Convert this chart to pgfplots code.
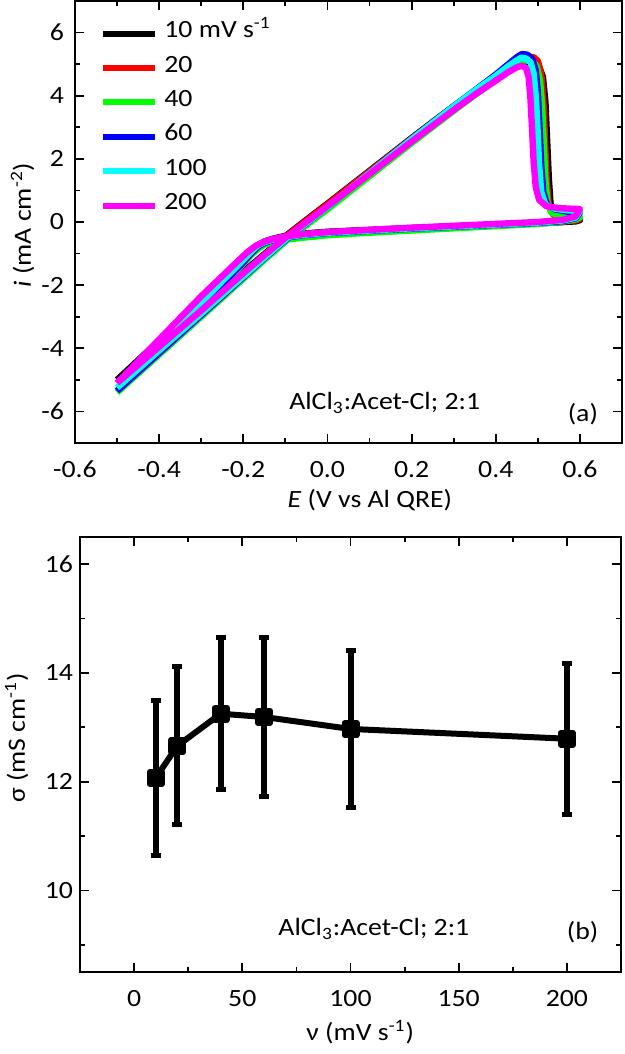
\documentclass[border=0pt]{standalone}
\usepackage{fontspec}
\setmainfont{Carlito}[FakeStretch=1.12]
\usepackage{pgfplots}
\pgfplotsset{compat=1.18}
\definecolor{cgreen}{RGB}{0,255,0}
\definecolor{ccyan}{RGB}{0,255,255}
\definecolor{cmag}{RGB}{255,0,255}
\definecolor{cred}{RGB}{255,0,0}
\definecolor{cblue}{RGB}{0,0,255}
\begin{document}
\begin{tikzpicture}[font=\fontsize{12.4}{14}\selectfont]
\pgfplotsset{
  myax/.style={
    scale only axis, anchor=south west,
    tick align=inside,
    major tick length=4.5pt, minor tick length=2.5pt,
    axis line style={line width=1pt},
    every tick/.style={black, line width=0.9pt},
    /pgf/number format/assume math mode=true,
    tick label style={font=\fontsize{12.4}{14}\selectfont},
    label style={font=\fontsize{12.4}{14}\selectfont},
    xticklabel style={yshift=-5.5pt},
    clip=false,
  }
}
% ---------------- top panel ----------------
\begin{axis}[myax,
  at={(37.5pt,305.5pt)}, width=273.5pt, height=221pt,
  xmin=-0.6, xmax=0.7, ymin=-7, ymax=7,
  xtick={-0.6,-0.4,-0.2,0,0.2,0.4,0.6},
  xticklabels={-0.6,-0.4,-0.2,0.0,0.2,0.4,0.6},
  minor xtick={-0.5,-0.3,-0.1,0.1,0.3,0.5},
  ytick={-6,-4,-2,0,2,4,6},
  minor ytick={-5,-3,-1,1,3,5},
  yticklabel style={xshift=-2pt},
  xlabel={\textit{E} (V vs Al QRE)},
  ylabel={\textit{i} (mA cm\textsuperscript{-2})},
  xlabel style={at={(axis description cs:0.539,0)}, anchor=center, yshift=-28.5pt},
  ylabel style={at={(axis description cs:-0.096,0.493)}, anchor=center, rotate=0},
  legend cell align=left,
  legend image code/.code={\draw[line width=3pt] (0pt,0pt) -- (26pt,0pt);},
  legend style={at={(rel axis cs:0,1)}, anchor=north west, xshift=12.5pt, yshift=-7.5pt,
    draw=none, fill=none, inner sep=0pt, row sep=0pt, column sep=3pt,
    nodes={inner sep=0pt, text height=10.6pt, text depth=6.6pt}},
  every axis plot/.append style={line width=3.2pt, line join=round, no markers},
]
\addplot[black] coordinates {
(-0.5,-5.0) (-0.45,-4.43) (-0.4,-3.86) (-0.35,-3.29) (-0.3,-2.72) (-0.25,-2.15) (-0.2,-1.58) (-0.15,-1.02) (-0.1,-0.45) (-0.05,0.07) (0,0.58) (0.05,1.1) (0.1,1.62) (0.15,2.14) (0.2,2.66) (0.25,3.17) (0.3,3.67) (0.35,4.15) (0.4,4.6) (0.43,4.86) (0.455,5.02) (0.475,5.08) (0.49,5.06) (0.502,4.95) (0.512,4.6) (0.518,3.8) (0.522,2.6) (0.526,1.4) (0.53,0.6) (0.537,0.25) (0.55,0.13) (0.575,0.08) (0.6,0.06)
(0.59,0.02) (0.55,-0.01) (0.5,-0.04) (0.4,-0.09) (0.3,-0.14) (0.2,-0.19) (0.1,-0.25) (0.0,-0.31) (-0.06,-0.37) (-0.1,-0.44) (-0.13,-0.53) (-0.15,-0.62) (-0.165,-0.75) (-0.18,-0.93) (-0.2,-1.2) (-0.25,-1.85) (-0.3,-2.5) (-0.35,-3.12) (-0.4,-3.75) (-0.45,-4.38) (-0.5,-5.0)
};
\addlegendentry{10 mV s\textsuperscript{-1}}
\addplot[cred] coordinates {
(-0.5,-5.1) (-0.4,-3.95) (-0.3,-2.8) (-0.2,-1.63) (-0.15,-1.05) (-0.1,-0.47) (-0.05,0.05) (0,0.56) (0.1,1.6) (0.2,2.64) (0.3,3.66) (0.35,4.15) (0.4,4.62) (0.43,4.92) (0.455,5.15) (0.475,5.24) (0.49,5.22) (0.5,5.1) (0.508,4.7) (0.513,3.9) (0.517,2.6) (0.521,1.3) (0.526,0.55) (0.535,0.25) (0.55,0.16) (0.575,0.12) (0.6,0.1)
(0.59,0.05) (0.55,0.0) (0.5,-0.04) (0.4,-0.09) (0.3,-0.14) (0.2,-0.2) (0.1,-0.26) (0,-0.32) (-0.06,-0.38) (-0.1,-0.45) (-0.13,-0.55) (-0.15,-0.66) (-0.165,-0.8) (-0.18,-0.98) (-0.2,-1.25) (-0.3,-2.55) (-0.4,-3.83) (-0.5,-5.1)
};
\addlegendentry{20}
\addplot[cgreen] coordinates {
(-0.5,-5.4) (-0.4,-4.2) (-0.3,-3.0) (-0.2,-1.8) (-0.15,-1.2) (-0.1,-0.62) (-0.05,-0.1) (0,0.4) (0.1,1.45) (0.2,2.5) (0.3,3.52) (0.35,4.02) (0.4,4.5) (0.43,4.82) (0.455,5.05) (0.47,5.12) (0.485,5.1) (0.497,4.95) (0.505,4.5) (0.51,3.7) (0.514,2.5) (0.518,1.3) (0.523,0.6) (0.532,0.3) (0.55,0.2) (0.575,0.17) (0.6,0.15)
(0.59,0.08) (0.55,0.0) (0.5,-0.06) (0.4,-0.13) (0.3,-0.2) (0.2,-0.27) (0.1,-0.34) (0,-0.42) (-0.06,-0.5) (-0.1,-0.56) (-0.13,-0.63) (-0.15,-0.72) (-0.165,-0.85) (-0.18,-1.03) (-0.2,-1.32) (-0.3,-2.68) (-0.4,-4.04) (-0.5,-5.4)
};
\addlegendentry{40}
\addplot[cblue] coordinates {
(-0.5,-5.35) (-0.4,-4.15) (-0.3,-2.95) (-0.2,-1.75) (-0.15,-1.15) (-0.1,-0.57) (-0.05,-0.04) (0,0.48) (0.1,1.55) (0.2,2.62) (0.3,3.66) (0.35,4.17) (0.4,4.67) (0.43,5.0) (0.45,5.22) (0.462,5.32) (0.475,5.3) (0.487,5.15) (0.495,4.8) (0.5,4.1) (0.504,3.0) (0.508,1.8) (0.513,0.95) (0.522,0.55) (0.54,0.4) (0.57,0.33) (0.6,0.3)
(0.59,0.12) (0.56,0.03) (0.5,-0.03) (0.4,-0.09) (0.3,-0.15) (0.2,-0.21) (0.1,-0.28) (0,-0.35) (-0.06,-0.42) (-0.1,-0.5) (-0.13,-0.58) (-0.15,-0.66) (-0.165,-0.78) (-0.18,-0.98) (-0.2,-1.28) (-0.3,-2.65) (-0.4,-4.0) (-0.5,-5.35)
};
\addlegendentry{60}
\addplot[ccyan] coordinates {
(-0.5,-5.25) (-0.4,-4.07) (-0.3,-2.9) (-0.2,-1.72) (-0.15,-1.13) (-0.1,-0.55) (-0.05,-0.03) (0,0.48) (0.1,1.55) (0.2,2.62) (0.3,3.66) (0.35,4.16) (0.4,4.63) (0.43,4.94) (0.45,5.12) (0.46,5.2) (0.472,5.18) (0.483,5.05) (0.49,4.7) (0.495,4.0) (0.499,3.0) (0.503,1.8) (0.508,0.95) (0.518,0.55) (0.54,0.42) (0.57,0.37) (0.6,0.35)
(0.59,0.14) (0.56,0.05) (0.5,-0.02) (0.4,-0.08) (0.3,-0.14) (0.2,-0.2) (0.1,-0.27) (0,-0.34) (-0.06,-0.41) (-0.1,-0.48) (-0.13,-0.56) (-0.15,-0.64) (-0.165,-0.74) (-0.18,-0.92) (-0.2,-1.2) (-0.3,-2.55) (-0.4,-3.9) (-0.5,-5.25)
};
\addlegendentry{100}
\addplot[cmag] coordinates {
(-0.5,-5.1) (-0.4,-3.95) (-0.3,-2.8) (-0.2,-1.62) (-0.15,-1.05) (-0.1,-0.5) (-0.05,0.0) (0,0.5) (0.1,1.52) (0.2,2.55) (0.3,3.55) (0.35,4.03) (0.4,4.48) (0.43,4.75) (0.45,4.9) (0.462,4.95) (0.472,4.88) (0.478,4.6) (0.482,4.0) (0.486,3.0) (0.49,1.9) (0.495,1.1) (0.503,0.7) (0.52,0.5) (0.55,0.44) (0.58,0.42) (0.6,0.41)
(0.59,0.18) (0.56,0.07) (0.5,0.0) (0.4,-0.06) (0.3,-0.12) (0.2,-0.18) (0.1,-0.25) (0,-0.32) (-0.06,-0.39) (-0.1,-0.46) (-0.13,-0.54) (-0.15,-0.62) (-0.17,-0.75) (-0.19,-0.95) (-0.21,-1.2) (-0.3,-2.35) (-0.4,-3.72) (-0.5,-5.1)
};
\addlegendentry{200}
\node[anchor=base] at (axis cs:0.136,-5.95) {AlCl\textsubscript{3}:Acet-Cl; 2:1};
\node[anchor=center] at (axis cs:0.607,-6.1) {(a)};
\end{axis}
% ---------------- bottom panel ----------------
\begin{axis}[myax,
  at={(40pt,41pt)}, width=270.5pt, height=217.5pt,
  xmin=-25, xmax=225, ymin=8.5, ymax=16.5,
  xtick={0,50,100,150,200},
  minor xtick={25,75,125,175},
  ytick={10,12,14,16},
  minor ytick={9,11,13,15},
  xlabel={ν (mV s\textsuperscript{-1})},
  ylabel={σ (mS cm\textsuperscript{-1})},
  xlabel style={at={(axis description cs:0.518,-0.138)}, anchor=center},
  ylabel style={at={(axis description cs:-0.117,0.538)}, anchor=center},
]
\addplot[black, line width=3pt, line join=round, mark=square*, mark size=3pt,
  error bars/.cd, y dir=both, y explicit,
  error bar style={line width=3pt},
  error mark=-,
  error mark options={line width=2.5pt, mark size=2.5pt, rotate=90}]
  table[x=x, y=y, y error=e] {
x y e
10 12.07 1.42
20 12.66 1.45
40 13.25 1.40
60 13.19 1.46
100 12.97 1.45
200 12.79 1.39
};
\node[anchor=base] at (axis cs:110.8,9.17) {AlCl\textsubscript{3}:Acet-Cl; 2:1};
\node[anchor=center] at (axis cs:207.3,9.23) {(b)};
\end{axis}
\pgfresetboundingbox
\useasboundingbox (0pt,0pt) rectangle (312.5pt,527pt);
\end{tikzpicture}
\end{document}
